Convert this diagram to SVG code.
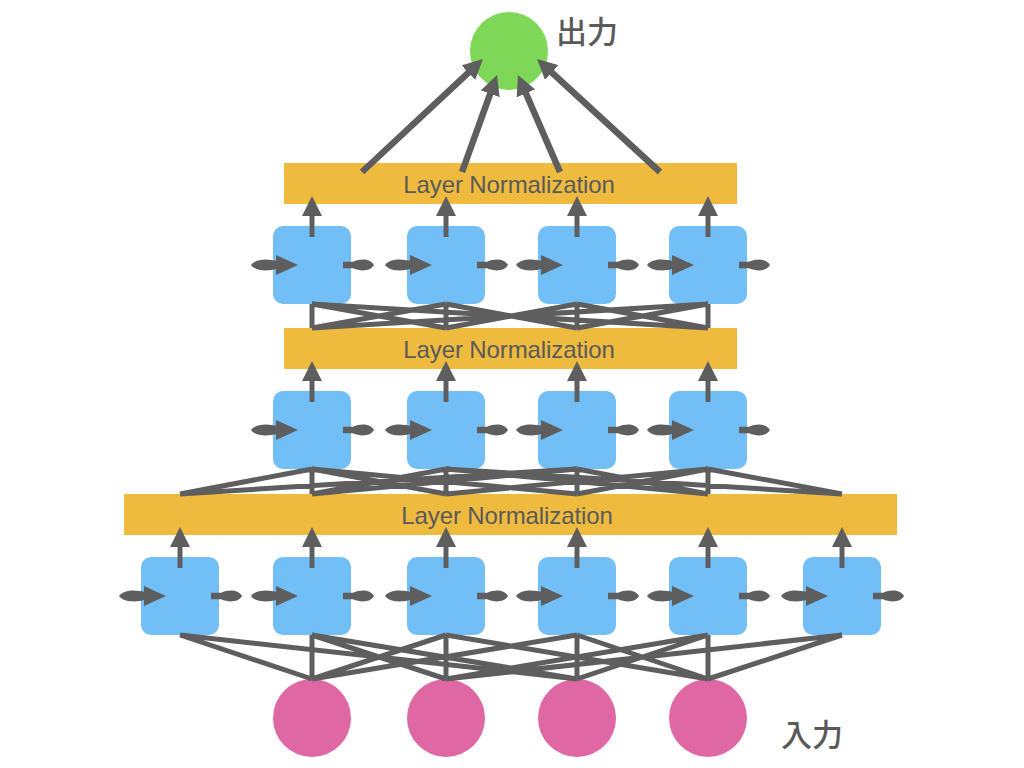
<svg xmlns="http://www.w3.org/2000/svg" xmlns:xlink="http://www.w3.org/1999/xlink" width="1024" height="768" viewBox="0 0 1024 768">
<style>
.bar{fill:#EFBB3F}
.cell{fill:#72BFF8}
.inp{fill:#DE67A4}
.out{fill:#7ED756}
.lbl{font-family:"Liberation Sans",Arial,sans-serif;font-size:24px;fill:#5A5A5A;text-anchor:middle;letter-spacing:-0.1px}
.jp{font-family:"Noto Sans CJK JP","Noto Sans",sans-serif;font-size:31px;font-weight:500;fill:#5A5A5A}
.fan{stroke:#5E5E5E;stroke-width:5;fill:none}
.up{stroke:#5E5E5E;stroke-width:5;fill:none;marker-end:url(#ah)}
.oarr{stroke:#5E5E5E;stroke-width:6.5;fill:none;marker-end:url(#ah)}
.g{fill:#5E5E5E}
</style>
<defs>
<marker id="ah" viewBox="0 0 20 20" markerWidth="20" markerHeight="20" markerUnits="userSpaceOnUse" refX="2" refY="10" orient="auto">
<path d="M0,0 L20,10 L0,20 Z" fill="#5E5E5E"/>
</marker>
<g id="rnn">
<rect class="cell" x="-39" y="-39" width="78" height="78" rx="10"/>
<path class="g" d="M-61,0 C-56,-6.5 -44,-6.5 -34,-3.5 L-34,3.5 C-44,6.5 -56,6.5 -61,0 Z"/>
<path class="g" d="M-36,-10 L-14,0 L-36,10 Z"/>
<path class="g" d="M31,-3.3 L41,-3.3 C49,-6.5 58,-6.5 62,0 C58,6.5 49,6.5 41,3.3 L31,3.3 Z"/>
</g>
</defs>
<rect width="1024" height="768" fill="#FFFFFF"/>

<g id="ln3"><rect class="bar" x="124" y="494" width="773" height="41"/><text class="lbl" x="507" y="524">Layer Normalization</text></g>
<g id="ln2"><rect class="bar" x="284" y="328" width="453" height="41"/><text class="lbl" x="509" y="358">Layer Normalization</text></g>
<g id="ln1"><rect class="bar" x="284" y="163" width="453" height="41"/><text class="lbl" x="509" y="193">Layer Normalization</text></g>

<g id="output"><circle class="out" cx="509" cy="51" r="39"/><text class="jp" x="556" y="43">出力</text></g>

<g id="in0"><circle class="inp" cx="312" cy="718" r="39"/></g>
<g id="in1"><circle class="inp" cx="446" cy="718" r="39"/></g>
<g id="in2"><circle class="inp" cx="577" cy="718" r="39"/></g>
<g id="in3"><circle class="inp" cx="708" cy="718" r="39"/><text class="jp" x="781" y="746">入力</text></g>

<g id="b0"><use xlink:href="#rnn" href="#rnn" x="180" y="596"/></g>
<g id="b1"><use xlink:href="#rnn" href="#rnn" x="312" y="596"/></g>
<g id="b2"><use xlink:href="#rnn" href="#rnn" x="446" y="596"/></g>
<g id="b3"><use xlink:href="#rnn" href="#rnn" x="577" y="596"/></g>
<g id="b4"><use xlink:href="#rnn" href="#rnn" x="708" y="596"/></g>
<g id="b5"><use xlink:href="#rnn" href="#rnn" x="842" y="596"/></g>

<g id="m0"><use xlink:href="#rnn" href="#rnn" x="312" y="430"/></g>
<g id="m1"><use xlink:href="#rnn" href="#rnn" x="446" y="430"/></g>
<g id="m2"><use xlink:href="#rnn" href="#rnn" x="577" y="430"/></g>
<g id="m3"><use xlink:href="#rnn" href="#rnn" x="708" y="430"/></g>

<g id="t0"><use xlink:href="#rnn" href="#rnn" x="312" y="265"/></g>
<g id="t1"><use xlink:href="#rnn" href="#rnn" x="446" y="265"/></g>
<g id="t2"><use xlink:href="#rnn" href="#rnn" x="577" y="265"/></g>
<g id="t3"><use xlink:href="#rnn" href="#rnn" x="708" y="265"/></g>

<g id="connectors">
<path class="fan" d="M312,679 L180,635 M312,679 L312,635 M312,679 L446,635 M312,679 L577,635
M446,679 L312,635 M446,679 L446,635 M446,679 L708,635 M446,679 L842,635
M577,679 L180,635 M577,679 L312,635 M577,679 L577,635 M577,679 L708,635
M708,679 L446,635 M708,679 L577,635 M708,679 L708,635 M708,679 L842,635"/>
<path class="fan" d="M180,494 L312,469 M180,494 L577,469
M312,494 L312,469 M312,494 L446,469 M312,494 L577,469
M446,494 L312,469 M446,494 L446,469 M446,494 L708,469
M577,494 L312,469 M577,494 L577,469 M577,494 L708,469
M708,494 L446,469 M708,494 L577,469 M708,494 L708,469
M842,494 L446,469 M842,494 L708,469"/>
<path class="fan" d="M312,328 L312,304 M446,328 L312,304 M708,328 L312,304
M312,328 L446,304 M446,328 L446,304 M577,328 L446,304
M446,328 L577,304 M577,328 L577,304 M708,328 L577,304
M312,328 L708,304 M577,328 L708,304 M708,328 L708,304"/>
<path class="up" d="M180,568 L180,545"/>
<path class="up" d="M312,568 L312,545"/>
<path class="up" d="M446,568 L446,545"/>
<path class="up" d="M577,568 L577,545"/>
<path class="up" d="M708,568 L708,545"/>
<path class="up" d="M842,568 L842,545"/>
<path class="up" d="M312,402 L312,379"/>
<path class="up" d="M446,402 L446,379"/>
<path class="up" d="M577,402 L577,379"/>
<path class="up" d="M708,402 L708,379"/>
<path class="up" d="M312,237 L312,214"/>
<path class="up" d="M446,237 L446,214"/>
<path class="up" d="M577,237 L577,214"/>
<path class="up" d="M708,237 L708,214"/>
<path class="oarr" d="M362,172 L469.8,71.3"/>
<path class="oarr" d="M462,172 L490.9,91.9"/>
<path class="oarr" d="M560,172 L525.1,91.5"/>
<path class="oarr" d="M660,172 L550.3,71.2"/>
</g>
</svg>
